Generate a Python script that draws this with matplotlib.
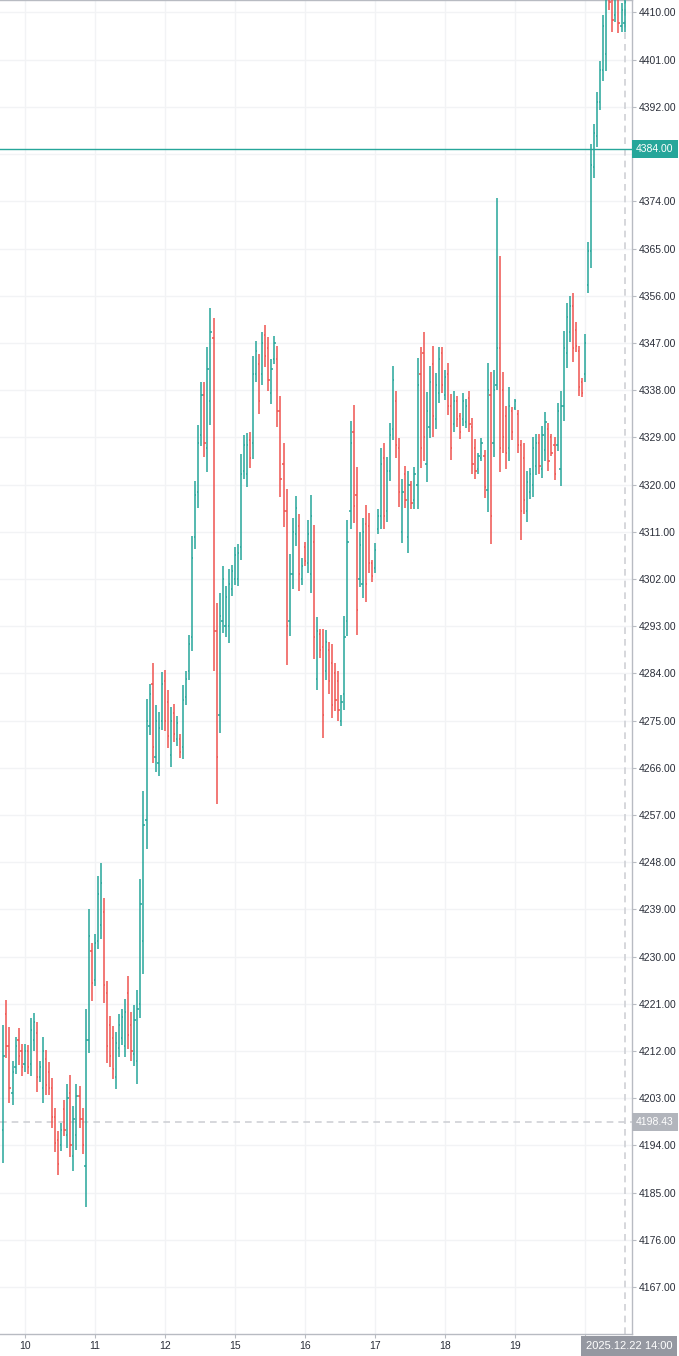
import numpy as np
import matplotlib
matplotlib.use("Agg")
import matplotlib.pyplot as plt

# ---- XAUUSD H1 bars, bar 0 = day 9 late session ----
opens = [
    4197, 4219, 4213, 4204, 4209, 4214, 4212, 4209.5, 4212, 4209.5,
    4214, 4215.5, 4207, 4205, 4210.5, 4208, 4205, 4199.5, 4195, 4194,
    4201, 4196, 4204, 4192, 4196, 4203.5, 4199, 4190, 4214, 4231,
    4225.5, 4233, 4236, 4238.5, 4223, 4217, 4214.5, 4207, 4212.5, 4214.5,
    4213, 4223, 4217, 4211.5, 4210, 4221, 4233, 4256, 4274, 4282,
    4268, 4267, 4275, 4282.5, 4278.5, 4268.5, 4276.5, 4271.5, 4271.5, 4270,
    4279.5, 4284.5, 4291, 4310, 4318.5, 4329.5, 4337, 4327, 4336, 4348,
    4292, 4276, 4294, 4293, 4293, 4300, 4302, 4302, 4308, 4322.5,
    4322, 4328.5, 4328, 4341, 4343, 4341, 4348.5, 4346, 4337.5, 4344,
    4344, 4334, 4324, 4315, 4294, 4303, 4310.5, 4312, 4302, 4308,
    4305, 4303, 4309, 4283, 4291.5, 4289, 4284.5, 4288.5, 4286, 4284,
    4282.5, 4275, 4280, 4294, 4315, 4330, 4318, 4302, 4301, 4312.5,
    4312, 4305, 4304, 4311.5, 4314, 4325, 4315, 4322.5, 4330.5, 4336,
    4327, 4311, 4322, 4310, 4320, 4317, 4320, 4341, 4345, 4324,
    4331, 4343, 4332.5, 4337.5, 4345, 4337, 4341, 4335, 4331.5, 4336,
    4333, 4332.5, 4332, 4336.5, 4331, 4327, 4323, 4325, 4325.5, 4319,
    4337, 4328, 4339, 4346, 4338, 4333, 4327, 4334, 4334.5, 4333.5,
    4327.5, 4325, 4315, 4318.5, 4320, 4323.5, 4328, 4323, 4326.5, 4330.5,
    4329, 4327.5, 4327.5, 4323, 4335, 4345, 4349, 4354, 4349.5, 4345.5,
    4339.5, 4341, 4358, 4364.5, 4380.5, 4386.5, 4393, 4399, 4402, 4414.5,
    4413, 4409.5, 4413, 4407.5, 4408,
]
highs = [
    4217.0, 4221.7, 4216.6, 4210.1, 4214.7, 4216.3, 4213.3, 4213.3, 4213.1, 4218.3,
    4219.2, 4217.5, 4210.1, 4214.7, 4212.1, 4209.9, 4206.9, 4201.1, 4196.8, 4198.2,
    4202.7, 4205.7, 4207.4, 4201.6, 4205.7, 4205.3, 4201.2, 4220.0, 4239.0, 4232.5,
    4234.3, 4245.4, 4247.8, 4241.1, 4225.3, 4218.7, 4216.8, 4215.7, 4219.0, 4220.0,
    4221.9, 4226.3, 4219.4, 4220.8, 4223.6, 4244.7, 4261.6, 4279.1, 4281.9, 4286.0,
    4277.9, 4276.6, 4284.3, 4284.6, 4280.8, 4277.5, 4278.1, 4275.9, 4272.4, 4281.8,
    4284.5, 4291.4, 4310.2, 4320.7, 4331.4, 4339.5, 4339.5, 4346.2, 4353.7, 4351.7,
    4297.4, 4299.3, 4304.5, 4300.7, 4303.8, 4304.7, 4308.1, 4308.6, 4325.8, 4329.4,
    4329.8, 4330.1, 4344.5, 4347.4, 4344.8, 4349.0, 4350.4, 4348.2, 4343.9, 4348.4,
    4346.4, 4336.9, 4327.9, 4319.1, 4306.8, 4313.7, 4317.9, 4314.4, 4305.9, 4309.0,
    4313.2, 4318.0, 4312.3, 4294.7, 4292.5, 4292.5, 4292.3, 4290.0, 4289.5, 4286.0,
    4284.5, 4279.8, 4295.0, 4313.2, 4332.2, 4335.2, 4323.4, 4311.0, 4313.6, 4316.1,
    4314.5, 4305.6, 4308.9, 4315.3, 4326.9, 4327.9, 4325.3, 4331.8, 4342.6, 4337.8,
    4328.9, 4321.0, 4323.5, 4322.5, 4320.7, 4323.4, 4344.2, 4346.2, 4349.1, 4337.7,
    4342.6, 4346.5, 4341.2, 4346.2, 4346.3, 4341.8, 4343.1, 4337.2, 4337.8, 4336.9,
    4333.6, 4337.5, 4336.3, 4337.8, 4332.7, 4328.7, 4326.1, 4328.8, 4326.6, 4343.1,
    4341.5, 4341.8, 4374.7, 4363.6, 4341.4, 4335.0, 4338.5, 4334.8, 4336.3, 4334.3,
    4328.5, 4328.0, 4322.6, 4323.1, 4329.1, 4329.6, 4329.6, 4331.2, 4333.8, 4331.8,
    4329.6, 4329.1, 4335.6, 4337.8, 4349.3, 4354.7, 4355.9, 4356.6, 4350.9, 4346.4,
    4340.3, 4348.7, 4366.3, 4384.9, 4388.7, 4394.9, 4400.8, 4409.5, 4415.0, 4416.0,
    4416.0, 4415.0, 4415.0, 4411.8, 4413.0,
]
lows = [
    4190.7, 4210.6, 4202.0, 4201.7, 4207.6, 4209.3, 4207.3, 4208.0, 4207.6, 4207.3,
    4212.0, 4204.1, 4206.0, 4202.1, 4203.6, 4203.6, 4197.4, 4192.7, 4188.4, 4193.0,
    4195.7, 4193.5, 4191.8, 4189.2, 4193.1, 4197.3, 4192.4, 4182.3, 4211.6, 4221.6,
    4224.3, 4231.4, 4233.4, 4221.1, 4209.8, 4209.0, 4206.6, 4204.8, 4210.9, 4213.1,
    4210.8, 4212.3, 4210.0, 4209.2, 4205.7, 4218.3, 4226.6, 4250.5, 4272.3, 4267.0,
    4265.1, 4264.5, 4273.2, 4273.0, 4269.8, 4266.2, 4271.0, 4270.2, 4267.8, 4267.7,
    4278.0, 4282.7, 4288.3, 4307.8, 4315.6, 4327.4, 4325.3, 4322.3, 4331.4, 4284.5,
    4259.0, 4272.6, 4291.6, 4290.9, 4289.7, 4298.7, 4300.8, 4300.6, 4305.7, 4321.0,
    4319.5, 4323.2, 4324.9, 4339.6, 4333.5, 4339.0, 4342.4, 4337.8, 4335.3, 4342.9,
    4331.0, 4317.6, 4311.9, 4285.5, 4291.2, 4300.1, 4308.2, 4299.7, 4300.8, 4304.5,
    4303.2, 4299.3, 4286.7, 4280.8, 4286.9, 4271.7, 4282.7, 4280.1, 4275.4, 4276.8,
    4275.0, 4274.0, 4277.1, 4291.1, 4311.5, 4312.6, 4291.4, 4300.4, 4298.3, 4297.6,
    4303.1, 4301.4, 4303.2, 4310.6, 4311.5, 4311.5, 4312.9, 4320.7, 4328.4, 4325.0,
    4315.8, 4308.8, 4315.5, 4306.9, 4315.3, 4315.3, 4315.3, 4323.2, 4324.5, 4320.5,
    4328.8, 4329.1, 4330.5, 4335.5, 4337.5, 4336.1, 4333.3, 4324.7, 4330.0, 4331.0,
    4328.7, 4331.2, 4330.8, 4330.1, 4322.1, 4321.0, 4322.1, 4324.5, 4317.5, 4314.8,
    4308.7, 4325.2, 4338.0, 4322.3, 4326.0, 4323.0, 4324.5, 4328.5, 4334.2, 4326.0,
    4309.4, 4314.3, 4312.8, 4317.2, 4317.7, 4321.8, 4322.1, 4321.2, 4324.5, 4322.6,
    4325.4, 4320.9, 4326.3, 4319.8, 4332.2, 4342.2, 4347.1, 4343.4, 4345.3, 4336.8,
    4336.6, 4339.6, 4356.6, 4361.3, 4378.5, 4384.4, 4391.4, 4396.9, 4398.9, 4410.5,
    4406.2, 4408.1, 4406.0, 4406.2, 4406.2,
]
closes = [
    4211, 4213, 4205, 4208, 4213, 4211, 4209, 4212, 4209, 4216,
    4217.5, 4207, 4209, 4212, 4205.5, 4205, 4199.5, 4194.5, 4190.5, 4197,
    4197, 4203, 4194, 4199, 4203.5, 4199, 4194, 4214, 4234, 4225,
    4232.5, 4242, 4244, 4224.5, 4213, 4211, 4208.5, 4213.5, 4217, 4218.5,
    4219.5, 4215, 4212, 4218, 4220, 4240, 4255, 4275, 4280, 4270,
    4275, 4273.5, 4282, 4275, 4272, 4275, 4272.5, 4274.5, 4269, 4279,
    4283, 4289.5, 4306, 4318, 4328, 4337, 4328, 4342, 4349, 4292,
    4268, 4295, 4302, 4298.5, 4301, 4303.5, 4306.5, 4307, 4322, 4327.5,
    4327.5, 4325, 4341, 4345.5, 4336, 4347, 4344.5, 4340, 4342, 4347,
    4334, 4321, 4315, 4293, 4303, 4311, 4315.5, 4303, 4304.5, 4305.5,
    4310.5, 4314, 4291, 4292, 4288.5, 4276, 4290, 4282.5, 4278, 4279,
    4277, 4278.5, 4291, 4309, 4328, 4316, 4296, 4308.5, 4311, 4301,
    4305, 4302.5, 4307.5, 4314, 4324, 4314, 4322.5, 4329.5, 4340, 4327.5,
    4318.5, 4318.5, 4317, 4320, 4316.5, 4322, 4339, 4327, 4329, 4334,
    4339.5, 4333, 4339, 4344, 4339, 4340.5, 4335, 4327, 4336, 4332.5,
    4330, 4336, 4335, 4331.5, 4324, 4322.5, 4325.5, 4328, 4319.5, 4338,
    4314, 4338, 4346, 4327, 4329, 4326, 4335, 4330, 4336, 4327.5,
    4315, 4317, 4320.5, 4322, 4327, 4328, 4323.5, 4329.5, 4332, 4324.5,
    4326, 4322, 4334, 4335, 4346, 4352, 4354, 4346, 4346.5, 4338.5,
    4337.5, 4347, 4364.5, 4381, 4387, 4393, 4399, 4407.5, 4412.5, 4412,
    4408.5, 4413, 4408, 4410.5, 4412,
]

# day separators; the "22" label sits under the crosshair time box in the reference
day_start = [7, 30, 53, 76, 99, 122, 145, 168, 191]
day_labels = ["10", "11", "12", "15", "16", "17", "18", "19", ""]

price_line = 4384.00          # horizontal price line (teal)
cross_price = 4198.43         # crosshair price
cross_bar = 204               # crosshair bar
cross_time = "2025.12.22 14:00"

UP = "#26a69a"
DOWN = "#ef5350"
GRID = "#f2f3f5"
AXIS = "#b8bbc2"
TXT = "#2a2e39"

W, H = 679, 1356
fig = plt.figure(figsize=(W / 100, H / 100), dpi=100)
ax = fig.add_axes([0, (H - 1334) / H, 632 / W, 1334 / H])

x = np.arange(len(opens))
o = np.array(opens, float)
h = np.array(highs, float)
l = np.array(lows, float)
c = np.array(closes, float)
cols = np.where(c >= o, UP, DOWN)

# OHLC bars: high-low line, open tick left, close tick right
lw = 1.1
ax.vlines(x, l, h, colors=cols, linewidth=lw, zorder=3)
ax.hlines(o, x - 0.4, x, colors=cols, linewidth=lw, zorder=3)
ax.hlines(c, x, x + 0.4, colors=cols, linewidth=lw, zorder=3)

ax.set_xlim(-3.4 / 3.045, (632 - 3.4) / 3.045)
ax.set_ylim(4158.04, 4412.38)

# price scale: every 9.00; the label under the price-line box is covered
yt = np.arange(4167, 4411, 9)
ax.set_yticks(yt)
ax.set_yticklabels(["" if abs(v - price_line) < 4.5 else f"{v:.2f}" for v in yt])
ax.set_xticks(day_start)
ax.set_xticklabels(day_labels)
ax.grid(True, color=GRID, linewidth=1.0, zorder=0)
ax.set_axisbelow(True)

ax.yaxis.tick_right()
ax.tick_params(axis="y", length=3, width=0.8, color=AXIS, pad=2,
               labelsize=7.5, labelcolor=TXT)
ax.tick_params(axis="x", length=3, width=0.8, color=AXIS, pad=2,
               labelsize=7.5, labelcolor=TXT)
for lab in ax.get_xticklabels() + ax.get_yticklabels():
    lab.set_family("Liberation Sans")

ax.spines["left"].set_visible(False)
for s in ("right", "bottom", "top"):
    ax.spines[s].set_color(AXIS)
    ax.spines[s].set_linewidth(1.0)

# price line
ax.axhline(price_line, color=UP, linewidth=1.0, zorder=4)
ax.text(1.0 + 4 / 632, price_line, f"{price_line:.2f}", transform=ax.get_yaxis_transform(),
        ha="left", va="center", fontsize=7.5, family="Liberation Sans", color="white",
        bbox=dict(boxstyle="square,pad=0.4", fc=UP, ec="none"), clip_on=False, zorder=6)

# crosshair
ax.axhline(cross_price, color="#cfd1d6", linewidth=1.2, linestyle=(0, (4, 3)), zorder=2)
ax.axvline(cross_bar, color="#cfd1d6", linewidth=1.2, linestyle=(0, (4, 3)), zorder=2)
ax.text(1.0 + 4 / 632, cross_price, f"{cross_price:.2f}", transform=ax.get_yaxis_transform(),
        ha="left", va="center", fontsize=7.5, family="Liberation Sans", color="white",
        bbox=dict(boxstyle="square,pad=0.4", fc="#b2b5bc", ec="none"), clip_on=False, zorder=6)
fig.text(629 / W, 1 - 1346 / H, cross_time, ha="center", va="center", fontsize=8,
         family="Liberation Sans", color="white",
         bbox=dict(boxstyle="square,pad=0.45", fc="#9598a1", ec="none"), zorder=10)

fig.savefig("out.png", dpi=100, facecolor="white")
